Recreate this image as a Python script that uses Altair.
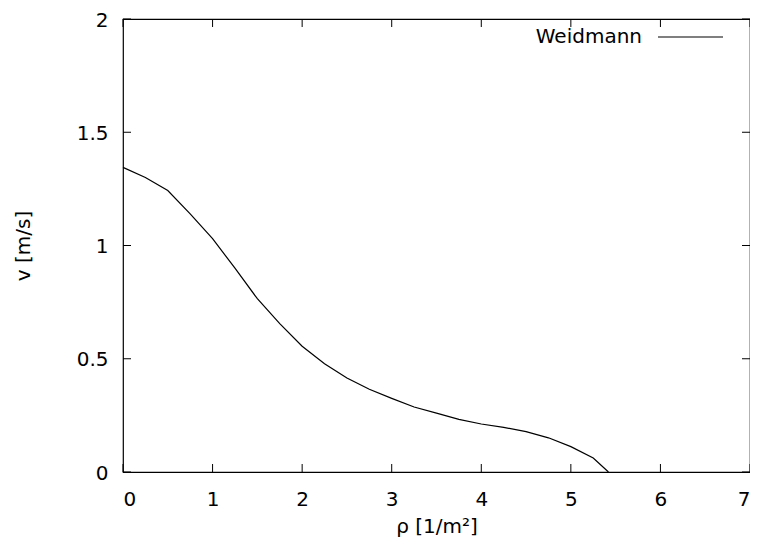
import altair as alt
import pandas as pd

rho = [0.0, 0.25, 0.5, 0.75, 1.0, 1.25, 1.5, 1.75, 2.0, 2.25, 2.5, 2.75, 3.0,
       3.25, 3.5, 3.75, 4.0, 4.25, 4.5, 4.75, 5.0, 5.25, 5.42]
v = [1.345, 1.30, 1.243, 1.14, 1.03, 0.90, 0.765, 0.655, 0.555, 0.478, 0.415,
     0.365, 0.325, 0.287, 0.26, 0.232, 0.212, 0.197, 0.178, 0.151, 0.112, 0.062, 0.0]
series_name = "Weidmann"
x_ticks = [0, 1, 2, 3, 4, 5, 6, 7]
y_ticks = [0, 0.5, 1, 1.5, 2]

FONT = "DejaVu Sans"
PL, PT, PR, PB = 115, 11, 0, 70
W, H = 627, 453
TL = 8

df = pd.DataFrame({"rho": rho, "v": v, "series": series_name})
xt = pd.DataFrame({"t": x_ticks})
yt = pd.DataFrame({"t": y_ticks})
leg = pd.DataFrame({"label": [series_name]})

xscale = alt.Scale(domain=[0, 7], nice=False, zero=False)
yscale = alt.Scale(domain=[0, 2], nice=False, zero=False)

line = alt.Chart(df).mark_line(color="black", strokeWidth=1.2).encode(
    x=alt.X("rho:Q", scale=xscale,
            axis=alt.Axis(title="ρ [1/m²]", values=x_ticks, format="d",
                          domain=False, ticks=False, grid=False,
                          labelPadding=17, titlePadding=7)),
    y=alt.Y("v:Q", scale=yscale,
            axis=alt.Axis(title="v [m/s]", values=y_ticks, format="~g",
                          domain=False, ticks=False, grid=False,
                          labelPadding=15, titlePadding=43, labelOffset=1)),
)

bt = alt.Chart(xt).mark_rule(color="black").encode(
    x=alt.X("t:Q", scale=xscale), y=alt.value(H), y2=alt.value(H - TL))
tt = alt.Chart(xt).mark_rule(color="black").encode(
    x=alt.X("t:Q", scale=xscale), y=alt.value(0), y2=alt.value(TL))
lt = alt.Chart(yt).mark_rule(color="black").encode(
    y=alt.Y("t:Q", scale=yscale), x=alt.value(0), x2=alt.value(TL))
rt = alt.Chart(yt).mark_rule(color="black").encode(
    y=alt.Y("t:Q", scale=yscale), x=alt.value(W), x2=alt.value(W - TL))

leg_text = alt.Chart(leg).mark_text(align="right", baseline="middle", font=FONT,
                                    fontSize=20, color="black").encode(
    text="label:N", x=alt.value(519), y=alt.value(18))
leg_line = alt.Chart(leg).mark_rule(color="black", strokeWidth=1.2).encode(
    x=alt.value(535), x2=alt.value(600), y=alt.value(18))

chart = alt.layer(line, bt, tt, lt, rt, leg_text, leg_line).properties(
    width=W, height=H,
    background="white",
    autosize=alt.AutoSizeParams(type="none"),
    padding={"left": PL, "top": PT, "right": PR, "bottom": PB},
).configure_view(stroke="black", strokeWidth=1.2).configure_axis(
    labelFont=FONT, labelFontSize=20, labelColor="black",
    titleFont=FONT, titleFontSize=20, titleColor="black", titleFontWeight="normal",
)

chart.save("out.html", embed_options={"renderer": "svg", "actions": False})
